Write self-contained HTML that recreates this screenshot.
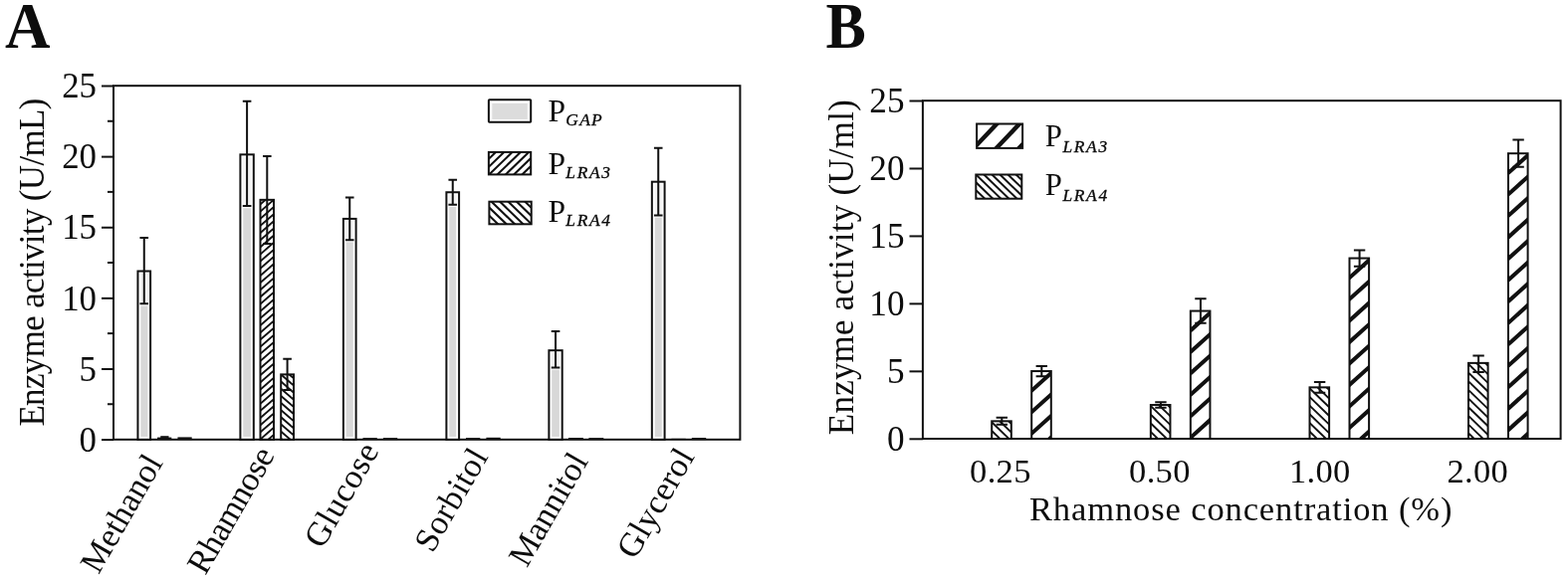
<!DOCTYPE html>
<html lang="en">
<head>
<meta charset="utf-8">
<title>Enzyme activity figure</title>
<style>
html,body{margin:0;padding:0;background:#fff;}
body{width:1575px;height:587px;overflow:hidden;font-family:"Liberation Serif", "DejaVu Serif", serif;}
svg{display:block;}
</style>
</head>
<body>
<svg width="1575" height="587" viewBox="0 0 1575 587" role="img" aria-label="Enzyme activity bar charts, panels A and B">
<rect x="0" y="0" width="1575" height="587" fill="#fff"/>
<g font-family='"Liberation Serif", "DejaVu Serif", serif' fill="#0d0d0d" stroke="none">
<text x="5" y="48.2" class="b" font-size="64.5" font-weight="bold" textLength="45.5" lengthAdjust="spacingAndGlyphs">A</text>
<text x="829.6" y="47.8" class="b" font-size="64.5" font-weight="bold" textLength="40.3" lengthAdjust="spacingAndGlyphs">B</text>
<rect x="114.0" y="86.2" width="629.40" height="355.60" fill="none" stroke="#111" stroke-width="2.0"/>
<line x1="102.0" y1="442.10" x2="114.0" y2="442.10" stroke="#111" stroke-width="2.0"/>
<text x="97" y="453.80" font-size="34.8" text-anchor="end">0</text>
<line x1="102.0" y1="370.98" x2="114.0" y2="370.98" stroke="#111" stroke-width="2.0"/>
<text x="97" y="382.68" font-size="34.8" text-anchor="end">5</text>
<line x1="102.0" y1="299.86" x2="114.0" y2="299.86" stroke="#111" stroke-width="2.0"/>
<text x="97" y="311.56" font-size="34.8" text-anchor="end">10</text>
<line x1="102.0" y1="228.74" x2="114.0" y2="228.74" stroke="#111" stroke-width="2.0"/>
<text x="97" y="240.44" font-size="34.8" text-anchor="end">15</text>
<line x1="102.0" y1="157.62" x2="114.0" y2="157.62" stroke="#111" stroke-width="2.0"/>
<text x="97" y="169.32" font-size="34.8" text-anchor="end">20</text>
<line x1="102.0" y1="86.50" x2="114.0" y2="86.50" stroke="#111" stroke-width="2.0"/>
<text x="97" y="98.20" font-size="34.8" text-anchor="end">25</text>
<line x1="108.0" y1="406.24" x2="114.0" y2="406.24" stroke="#111" stroke-width="2.0"/>
<line x1="108.0" y1="335.12" x2="114.0" y2="335.12" stroke="#111" stroke-width="2.0"/>
<line x1="108.0" y1="264.00" x2="114.0" y2="264.00" stroke="#111" stroke-width="2.0"/>
<line x1="108.0" y1="192.88" x2="114.0" y2="192.88" stroke="#111" stroke-width="2.0"/>
<line x1="108.0" y1="121.76" x2="114.0" y2="121.76" stroke="#111" stroke-width="2.0"/>
<rect x="926.9" y="101.2" width="640.70" height="339.80" fill="none" stroke="#111" stroke-width="2.0"/>
<line x1="913.5" y1="441.30" x2="926.9" y2="441.30" stroke="#111" stroke-width="2.0"/>
<text x="908.5" y="452.60" font-size="35.2" text-anchor="end">0</text>
<line x1="913.5" y1="373.34" x2="926.9" y2="373.34" stroke="#111" stroke-width="2.0"/>
<text x="908.5" y="384.64" font-size="35.2" text-anchor="end">5</text>
<line x1="913.5" y1="305.38" x2="926.9" y2="305.38" stroke="#111" stroke-width="2.0"/>
<text x="908.5" y="316.68" font-size="35.2" text-anchor="end">10</text>
<line x1="913.5" y1="237.42" x2="926.9" y2="237.42" stroke="#111" stroke-width="2.0"/>
<text x="908.5" y="248.72" font-size="35.2" text-anchor="end">15</text>
<line x1="913.5" y1="169.46" x2="926.9" y2="169.46" stroke="#111" stroke-width="2.0"/>
<text x="908.5" y="180.76" font-size="35.2" text-anchor="end">20</text>
<line x1="913.5" y1="101.50" x2="926.9" y2="101.50" stroke="#111" stroke-width="2.0"/>
<text x="908.5" y="112.80" font-size="35.2" text-anchor="end">25</text>
<text transform="translate(43.5,263.6) rotate(-90)" font-size="35" text-anchor="middle" textLength="330" lengthAdjust="spacing">Enzyme activity (U/mL)</text>
<text transform="translate(856.8,268.7) rotate(-90)" font-size="35" text-anchor="middle" textLength="337" lengthAdjust="spacing">Enzyme activity (U/ml)</text>
<rect x="138.45" y="272.53" width="12.65" height="169.27" fill="#fff" stroke="#111" stroke-width="2.0"/>
<rect x="140.85" y="274.93" width="7.85" height="30.32" fill="#f3f3f3"/>
<rect x="141.30" y="307.45" width="6.95" height="131.55" fill="#d8d8d8"/>
<path d="M144.77 239.11V305.25M140.47 239.11h8.6M140.47 305.25h8.6" fill="none" stroke="#111" stroke-width="2.0"/>
<rect x="158.05" y="439.60" width="14.25" height="2.2" fill="#111"/>
<rect x="178.45" y="439.40" width="14.25" height="2.4" fill="#111"/>
<rect x="161.25" y="438.20" width="8.25" height="2" fill="#111"/>
<text transform="translate(164.3,465.1) rotate(-60)" font-size="34" text-anchor="end" textLength="130.5" lengthAdjust="spacing">Methanol</text>
<rect x="241.40" y="155.33" width="13.40" height="286.47" fill="#fff" stroke="#111" stroke-width="2.0"/>
<rect x="243.80" y="157.73" width="8.60" height="49.38" fill="#f3f3f3"/>
<rect x="244.25" y="209.30" width="7.70" height="229.70" fill="#d8d8d8"/>
<path d="M248.10 101.85V207.10M243.80 101.85h8.6M243.80 207.10h8.6" fill="none" stroke="#111" stroke-width="2.0"/>
<clipPath id="c1"><rect x="261.50" y="200.85" width="13.50" height="240.95"/></clipPath>
<rect x="261.50" y="200.85" width="13.50" height="240.95" fill="#fff"/>
<path clip-path="url(#c1)" d="M1.29 417.31L400.46 70.32M4.83 421.39L404.00 74.39M8.37 425.47L407.55 78.47M11.92 429.54L411.09 82.54M15.46 433.62L414.63 86.62M19.00 437.69L418.17 90.70M22.54 441.77L421.72 94.77M26.09 445.84L425.26 98.85M29.63 449.92L428.80 102.92M33.17 453.99L432.35 107.00M36.72 458.07L435.89 111.07M40.26 462.14L439.43 115.15M43.80 466.22L442.97 119.22M47.34 470.29L446.52 123.30M50.89 474.37L450.06 127.37M54.43 478.45L453.60 131.45M57.97 482.52L457.14 135.53M61.51 486.60L460.69 139.60M65.06 490.67L464.23 143.68M68.60 494.75L467.77 147.75M72.14 498.82L471.32 151.83M75.69 502.90L474.86 155.90M79.23 506.97L478.40 159.98M82.77 511.05L481.94 164.05M86.31 515.12L485.49 168.13M89.86 519.20L489.03 172.20M93.40 523.28L492.57 176.28M96.94 527.35L496.11 180.36M100.48 531.43L499.66 184.43M104.03 535.50L503.20 188.51M107.57 539.58L506.74 192.58M111.11 543.65L510.29 196.66M114.66 547.73L513.83 200.73M118.20 551.80L517.37 204.81M121.74 555.88L520.91 208.88M125.28 559.95L524.46 212.96M128.83 564.03L528.00 217.03M132.37 568.11L531.54 221.11M135.91 572.18L535.08 225.18" fill="none" stroke="#111" stroke-width="1.9"/>
<rect x="261.50" y="200.85" width="13.50" height="240.95" fill="none" stroke="#111" stroke-width="2.0"/>
<path d="M268.30 156.96V244.94M264.00 156.96h8.6M264.00 244.94h8.6" fill="none" stroke="#111" stroke-width="2.0"/>
<clipPath id="c2"><rect x="282.20" y="376.37" width="12.80" height="65.43"/></clipPath>
<rect x="282.20" y="376.37" width="12.80" height="65.43" fill="#fff"/>
<path clip-path="url(#c2)" d="M246.08 323.51L379.26 439.28M242.54 327.58L375.72 443.35M239.00 331.66L372.17 447.43M235.46 335.74L368.63 451.50M231.91 339.81L365.09 455.58M228.37 343.89L361.55 459.65M224.83 347.96L358.00 463.73M221.28 352.04L354.46 467.81M217.74 356.11L350.92 471.88M214.20 360.19L347.38 475.96M210.66 364.26L343.83 480.03M207.11 368.34L340.29 484.11M203.57 372.41L336.75 488.18M200.03 376.49L333.20 492.26M196.49 380.56L329.66 496.33" fill="none" stroke="#111" stroke-width="1.9"/>
<rect x="282.20" y="376.37" width="12.80" height="65.43" fill="none" stroke="#111" stroke-width="2.0"/>
<path d="M288.60 360.72V392.02M284.30 360.72h8.6M284.30 392.02h8.6" fill="none" stroke="#111" stroke-width="2.0"/>
<text transform="translate(276.6,457.4) rotate(-60)" font-size="34" text-anchor="end" textLength="140.5" lengthAdjust="spacing">Rhamnose</text>
<rect x="344.90" y="219.91" width="12.70" height="221.89" fill="#fff" stroke="#111" stroke-width="2.0"/>
<rect x="347.30" y="222.31" width="7.90" height="18.94" fill="#f3f3f3"/>
<rect x="347.75" y="243.44" width="7.00" height="195.56" fill="#d8d8d8"/>
<path d="M351.25 198.57V241.24M346.95 198.57h8.6M346.95 241.24h8.6" fill="none" stroke="#111" stroke-width="2.0"/>
<rect x="364.50" y="440.10" width="14.30" height="1.7" fill="#111"/>
<rect x="384.90" y="440.10" width="14.30" height="1.7" fill="#111"/>
<text transform="translate(381.2,453.1) rotate(-60)" font-size="34" text-anchor="end" textLength="115.0" lengthAdjust="spacing">Glucose</text>
<rect x="448.40" y="193.24" width="12.70" height="248.56" fill="#fff" stroke="#111" stroke-width="2.0"/>
<rect x="450.80" y="195.64" width="7.90" height="10.05" fill="#f3f3f3"/>
<rect x="451.25" y="207.88" width="7.00" height="231.12" fill="#d8d8d8"/>
<path d="M454.75 180.86V205.68M450.45 180.86h8.6M450.45 205.68h8.6" fill="none" stroke="#111" stroke-width="2.0"/>
<rect x="468.00" y="440.10" width="14.30" height="1.7" fill="#111"/>
<rect x="488.40" y="439.80" width="14.30" height="2.0" fill="#111"/>
<text transform="translate(490.9,458.8) rotate(-60)" font-size="34" text-anchor="end" textLength="113.0" lengthAdjust="spacing">Sorbitol</text>
<rect x="551.40" y="352.19" width="13.30" height="89.61" fill="#fff" stroke="#111" stroke-width="2.0"/>
<rect x="553.80" y="354.59" width="8.50" height="14.81" fill="#f3f3f3"/>
<rect x="554.25" y="371.60" width="7.60" height="67.40" fill="#d8d8d8"/>
<path d="M558.05 332.99V369.40M553.75 332.99h8.6M553.75 369.40h8.6" fill="none" stroke="#111" stroke-width="2.0"/>
<rect x="571.00" y="440.00" width="14.90" height="1.8" fill="#111"/>
<rect x="591.40" y="440.10" width="14.90" height="1.7" fill="#111"/>
<text transform="translate(591.4,463.4) rotate(-60)" font-size="34" text-anchor="end" textLength="124.5" lengthAdjust="spacing">Mannitol</text>
<rect x="654.85" y="182.70" width="12.75" height="259.10" fill="#fff" stroke="#111" stroke-width="2.0"/>
<rect x="657.25" y="185.10" width="7.95" height="31.31" fill="#f3f3f3"/>
<rect x="657.70" y="218.61" width="7.05" height="220.39" fill="#d8d8d8"/>
<path d="M661.23 148.70V216.41M656.93 148.70h8.6M656.93 216.41h8.6" fill="none" stroke="#111" stroke-width="2.0"/>
<rect x="674.45" y="440.80" width="14.35" height="1.0" fill="#111"/>
<rect x="694.85" y="440.00" width="14.35" height="1.8" fill="#111"/>
<text transform="translate(698.2,458.8) rotate(-60)" font-size="34" text-anchor="end" textLength="121.0" lengthAdjust="spacing">Glycerol</text>
<rect x="490.9" y="100.2" width="42.3" height="22.5" fill="#fff" stroke="none"/>
<rect x="494.29999999999995" y="103.8" width="35.5" height="16.1" fill="#dcdcdc"/>
<rect x="490.9" y="100.2" width="42.3" height="22.5" rx="0.7" fill="none" stroke="#111" stroke-width="2"/>
<text x="550.4" y="121.7" font-size="31.5">P<tspan font-size="17.4" font-style="italic" letter-spacing="1.3" stroke="#0d0d0d" stroke-width="0.35" dy="4.2" dx="0.4">GAP</tspan></text>
<clipPath id="c3"><rect x="490.90" y="152.90" width="42.30" height="22.50"/></clipPath>
<rect x="490.90" y="152.90" width="42.30" height="22.50" fill="#fff"/>
<path clip-path="url(#c3)" d="M437.83 194.97L545.44 91.05M441.83 199.12L549.45 95.20M445.84 203.27L553.46 99.35M449.85 207.42L557.46 103.50M453.86 211.57L561.47 107.65M457.87 215.72L565.48 111.80M461.87 219.87L569.49 115.95M465.88 224.02L573.50 120.10M469.89 228.17L577.50 124.25M473.90 232.32L581.51 128.40M477.91 236.47L585.52 132.55M481.92 240.62L589.53 136.70" fill="none" stroke="#111" stroke-width="2.1"/>
<rect x="490.90" y="152.90" width="42.30" height="22.50" fill="none" stroke="#111" stroke-width="2.0"/>
<text x="550.4" y="174.9" font-size="31.5">P<tspan font-size="17.4" font-style="italic" letter-spacing="1.7" stroke="#0d0d0d" stroke-width="0.35" dy="4.2" dx="0.4">LRA3</tspan></text>
<clipPath id="c4"><rect x="491.40" y="202.70" width="42.30" height="22.60"/></clipPath>
<rect x="491.40" y="202.70" width="42.30" height="22.60" fill="#fff"/>
<path clip-path="url(#c4)" d="M479.60 140.29L587.36 244.35M475.54 144.50L583.30 248.56M471.48 148.71L579.23 252.77M467.41 152.92L575.17 256.98M463.35 157.13L571.11 261.19M459.29 161.33L567.04 265.39M455.22 165.54L562.98 269.60M451.16 169.75L558.92 273.81M447.09 173.96L554.85 278.02M443.03 178.17L550.79 282.23M438.97 182.37L546.72 286.43M434.90 186.58L542.66 290.64" fill="none" stroke="#111" stroke-width="2.1"/>
<rect x="491.40" y="202.70" width="42.30" height="22.60" fill="none" stroke="#111" stroke-width="2.0"/>
<text x="550.4" y="222.8" font-size="31.5">P<tspan font-size="17.4" font-style="italic" letter-spacing="1.7" stroke="#0d0d0d" stroke-width="0.35" dy="4.2" dx="0.4">LRA4</tspan></text>
<clipPath id="c5"><rect x="996.20" y="423.33" width="19.60" height="17.67"/></clipPath>
<rect x="996.20" y="423.33" width="19.60" height="17.67" fill="#fff"/>
<path clip-path="url(#c5)" d="M988.55 382.19L1056.56 447.86M984.21 386.68L1052.21 452.36M979.87 391.18L1047.87 456.85M975.52 395.68L1043.53 461.35M971.18 400.17L1039.19 465.84M966.84 404.67L1034.85 470.34M962.50 409.16L1030.51 474.84M958.16 413.66L1026.16 479.33" fill="none" stroke="#111" stroke-width="1.9"/>
<rect x="996.20" y="423.33" width="19.60" height="17.67" fill="none" stroke="#111" stroke-width="2.0"/>
<path d="M1006.30 419.80V426.86M1000.60 419.80h11.4M1000.60 426.86h11.4" fill="none" stroke="#111" stroke-width="2.0"/>
<clipPath id="c6"><rect x="1036.20" y="373.04" width="19.60" height="67.96"/></clipPath>
<rect x="1036.20" y="373.04" width="19.60" height="67.96" fill="#fff"/>
<path clip-path="url(#c6)" d="M940.57 435.73L1085.57 305.17M951.28 447.62L1096.28 317.06M961.98 459.51L1106.99 328.95M972.69 471.40L1117.69 340.84M983.40 483.29L1128.40 352.73M994.10 495.18L1139.10 364.62M1004.81 507.07L1149.81 376.51M1015.51 518.96L1160.52 388.40" fill="none" stroke="#111" stroke-width="4.0"/>
<rect x="1036.20" y="373.04" width="19.60" height="67.96" fill="none" stroke="#111" stroke-width="2.0"/>
<path d="M1046.30 367.88V378.20M1040.60 367.88h11.4M1040.60 378.20h11.4" fill="none" stroke="#111" stroke-width="2.0"/>
<text x="1004.9" y="485.4" font-size="34.5" text-anchor="middle" letter-spacing="0.3">0.25</text>
<clipPath id="c7"><rect x="1155.85" y="407.02" width="19.60" height="33.98"/></clipPath>
<rect x="1155.85" y="407.02" width="19.60" height="33.98" fill="#fff"/>
<path clip-path="url(#c7)" d="M1140.54 358.48L1232.01 446.82M1136.20 362.98L1227.67 451.31M1131.86 367.47L1223.33 455.81M1127.52 371.97L1218.99 460.30M1123.18 376.47L1214.65 464.80M1118.83 380.96L1210.31 469.30M1114.49 385.46L1205.96 473.79M1110.15 389.95L1201.62 478.29M1105.81 394.45L1197.28 482.78M1101.47 398.95L1192.94 487.28" fill="none" stroke="#111" stroke-width="1.9"/>
<rect x="1155.85" y="407.02" width="19.60" height="33.98" fill="none" stroke="#111" stroke-width="2.0"/>
<path d="M1165.95 404.30V409.74M1160.25 404.30h11.4M1160.25 409.74h11.4" fill="none" stroke="#111" stroke-width="2.0"/>
<clipPath id="c8"><rect x="1195.85" y="312.56" width="19.60" height="128.44"/></clipPath>
<rect x="1195.85" y="312.56" width="19.60" height="128.44" fill="#fff"/>
<path clip-path="url(#c8)" d="M1040.24 429.26L1275.13 217.75M1050.94 441.15L1285.84 229.65M1061.65 453.04L1296.55 241.54M1072.35 464.93L1307.25 253.43M1083.06 476.82L1317.96 265.32M1093.77 488.71L1328.67 277.21M1104.47 500.60L1339.37 289.10M1115.18 512.49L1350.08 300.99M1125.88 524.38L1360.78 312.88M1136.59 536.27L1371.49 324.77" fill="none" stroke="#111" stroke-width="4.0"/>
<rect x="1195.85" y="312.56" width="19.60" height="128.44" fill="none" stroke="#111" stroke-width="2.0"/>
<path d="M1205.95 300.32V324.79M1200.25 300.32h11.4M1200.25 324.79h11.4" fill="none" stroke="#111" stroke-width="2.0"/>
<text x="1164.9" y="485.4" font-size="34.5" text-anchor="middle" letter-spacing="0.3">0.50</text>
<clipPath id="c9"><rect x="1315.50" y="389.35" width="19.60" height="51.65"/></clipPath>
<rect x="1315.50" y="389.35" width="19.60" height="51.65" fill="#fff"/>
<path clip-path="url(#c9)" d="M1291.90 332.80L1408.79 445.68M1287.55 337.30L1404.45 450.18M1283.21 341.79L1400.11 454.68M1278.87 346.29L1395.76 459.17M1274.53 350.79L1391.42 463.67M1270.19 355.28L1387.08 468.16M1265.85 359.78L1382.74 472.66M1261.50 364.27L1378.40 477.15M1257.16 368.77L1374.06 481.65M1252.82 373.27L1369.71 486.15M1248.48 377.76L1365.37 490.64M1244.14 382.26L1361.03 495.14" fill="none" stroke="#111" stroke-width="1.9"/>
<rect x="1315.50" y="389.35" width="19.60" height="51.65" fill="none" stroke="#111" stroke-width="2.0"/>
<path d="M1325.60 383.91V394.79M1319.90 383.91h11.4M1319.90 394.79h11.4" fill="none" stroke="#111" stroke-width="2.0"/>
<clipPath id="c10"><rect x="1355.50" y="259.55" width="19.60" height="181.45"/></clipPath>
<rect x="1355.50" y="259.55" width="19.60" height="181.45" fill="#fff"/>
<path clip-path="url(#c10)" d="M1147.31 423.59L1461.00 141.14M1158.02 435.48L1471.70 153.03M1168.72 447.37L1482.41 164.92M1179.43 459.26L1493.12 176.81M1190.14 471.15L1503.82 188.70M1200.84 483.04L1514.53 200.59M1211.55 494.93L1525.23 212.49M1222.25 506.82L1535.94 224.38M1232.96 518.71L1546.65 236.27M1243.67 530.60L1557.35 248.16M1254.37 542.49L1568.06 260.05M1265.08 554.38L1578.77 271.94M1275.79 566.27L1589.47 283.83" fill="none" stroke="#111" stroke-width="4.0"/>
<rect x="1355.50" y="259.55" width="19.60" height="181.45" fill="none" stroke="#111" stroke-width="2.0"/>
<path d="M1365.60 251.39V267.70M1359.90 251.39h11.4M1359.90 267.70h11.4" fill="none" stroke="#111" stroke-width="2.0"/>
<text x="1325.7" y="485.4" font-size="34.5" text-anchor="middle" letter-spacing="0.3">1.00</text>
<clipPath id="c11"><rect x="1475.00" y="364.88" width="19.60" height="76.12"/></clipPath>
<rect x="1475.00" y="364.88" width="19.60" height="76.12" fill="#fff"/>
<path clip-path="url(#c11)" d="M1439.91 297.24L1592.00 444.12M1435.57 301.74L1587.66 448.61M1431.23 306.24L1583.32 453.11M1426.88 310.73L1578.98 457.60M1422.54 315.23L1574.63 462.10M1418.20 319.72L1570.29 466.60M1413.86 324.22L1565.95 471.09M1409.52 328.72L1561.61 475.59M1405.18 333.21L1557.27 480.08M1400.84 337.71L1552.93 484.58M1396.49 342.20L1548.58 489.08M1392.15 346.70L1544.24 493.57M1387.81 351.20L1539.90 498.07M1383.47 355.69L1535.56 502.56M1379.13 360.19L1531.22 507.06" fill="none" stroke="#111" stroke-width="1.9"/>
<rect x="1475.00" y="364.88" width="19.60" height="76.12" fill="none" stroke="#111" stroke-width="2.0"/>
<path d="M1485.10 357.41V373.99M1479.40 357.41h11.4M1479.40 373.99h11.4" fill="none" stroke="#111" stroke-width="2.0"/>
<clipPath id="c12"><rect x="1515.00" y="154.21" width="19.60" height="286.79"/></clipPath>
<rect x="1515.00" y="154.21" width="19.60" height="286.79" fill="#fff"/>
<path clip-path="url(#c12)" d="M1202.34 412.32L1672.59 -11.10M1213.05 424.21L1683.30 0.79M1223.75 436.10L1694.00 12.68M1234.46 447.99L1704.71 24.57M1245.16 459.88L1715.41 36.46M1255.87 471.77L1726.12 48.35M1266.58 483.66L1736.83 60.24M1277.28 495.55L1747.53 72.13M1287.99 507.44L1758.24 84.02M1298.70 519.33L1768.94 95.92M1309.40 531.22L1779.65 107.81M1320.11 543.11L1790.36 119.70M1330.81 555.00L1801.06 131.59M1341.52 566.89L1811.77 143.48M1352.23 578.78L1822.47 155.37M1362.93 590.67L1833.18 167.26M1373.64 602.56L1843.89 179.15M1384.34 614.45L1854.59 191.04" fill="none" stroke="#111" stroke-width="4.0"/>
<rect x="1515.00" y="154.21" width="19.60" height="286.79" fill="none" stroke="#111" stroke-width="2.0"/>
<path d="M1525.10 140.62V167.80M1519.40 140.62h11.4M1519.40 167.80h11.4" fill="none" stroke="#111" stroke-width="2.0"/>
<text x="1484.2" y="485.4" font-size="34.5" text-anchor="middle" letter-spacing="0.3">2.00</text>
<text x="1246.2" y="523.2" font-size="34.5" text-anchor="middle" textLength="424.5" lengthAdjust="spacing">Rhamnose concentration (%)</text>
<clipPath id="c13"><rect x="981.10" y="124.50" width="46.00" height="24.40"/></clipPath>
<rect x="981.10" y="124.50" width="46.00" height="24.40" fill="#fff"/>
<path clip-path="url(#c13)" d="M917.23 165.10L1027.92 48.46M929.20 176.46L1039.89 59.82M941.17 187.82L1051.85 71.18M953.14 199.18L1063.82 82.54M965.10 210.53L1075.79 93.89M977.07 221.89L1087.76 105.25M989.04 233.25L1099.73 116.61" fill="none" stroke="#111" stroke-width="4.4"/>
<rect x="981.10" y="124.50" width="46.00" height="24.40" fill="none" stroke="#111" stroke-width="2.0"/>
<text x="1049.7" y="147.0" font-size="30.7">P<tspan font-size="17.4" font-style="italic" letter-spacing="1.7" stroke="#0d0d0d" stroke-width="0.35" dy="6.0" dx="0.6">LRA3</tspan></text>
<clipPath id="c14"><rect x="980.30" y="175.50" width="46.00" height="24.20"/></clipPath>
<rect x="980.30" y="175.50" width="46.00" height="24.20" fill="#fff"/>
<path clip-path="url(#c14)" d="M967.79 108.92L1083.17 220.35M963.90 112.95L1079.28 224.37M960.01 116.98L1075.39 228.40M956.12 121.01L1071.50 232.43M952.23 125.04L1067.61 236.46M948.34 129.06L1063.72 240.49M944.45 133.09L1059.83 244.52M940.56 137.12L1055.94 248.54M936.67 141.15L1052.05 252.57M932.78 145.18L1048.16 256.60M928.89 149.21L1044.27 260.63M925.00 153.23L1040.38 264.66M921.11 157.26L1036.49 268.68" fill="none" stroke="#111" stroke-width="2.0"/>
<rect x="980.30" y="175.50" width="46.00" height="24.20" fill="none" stroke="#111" stroke-width="2.0"/>
<text x="1049.7" y="196.3" font-size="30.7">P<tspan font-size="17.4" font-style="italic" letter-spacing="1.7" stroke="#0d0d0d" stroke-width="0.35" dy="6.0" dx="0.6">LRA4</tspan></text>
</g></svg>
</body>
</html>
